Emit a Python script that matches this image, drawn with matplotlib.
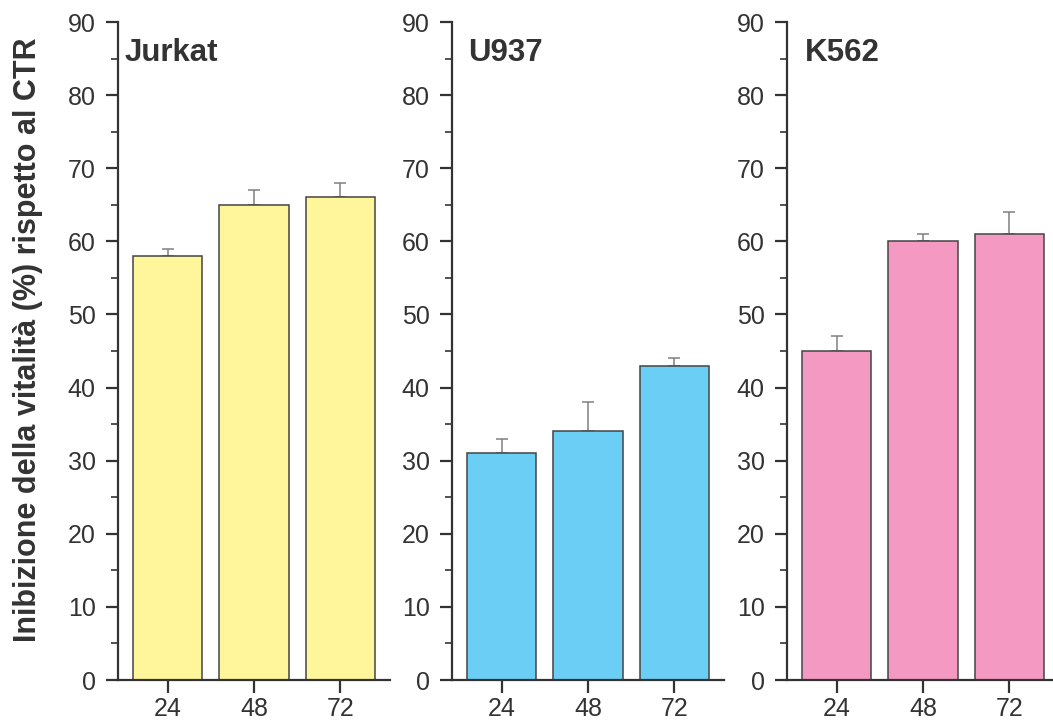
import matplotlib
matplotlib.use("Agg")
import matplotlib.pyplot as plt
from matplotlib.ticker import MultipleLocator

plt.rcParams["font.family"] = ["Liberation Sans", "DejaVu Sans"]

# data
cell_lines = ["Jurkat", "U937", "K562"]
hours = ["24", "48", "72"]
jurkat_vals = [58, 65, 66]
jurkat_err = [1, 2, 2]
u937_vals = [31, 34, 43]
u937_err = [2, 4, 1]
k562_vals = [45, 60, 61]
k562_err = [2, 1, 3]
bar_colors = ["#FFF59B", "#6BCEF5", "#F49AC2"]

values = [jurkat_vals, u937_vals, k562_vals]
errors = [jurkat_err, u937_err, k562_err]

TEXT = "#333333"
W, H = 1053, 724
fig = plt.figure(figsize=(W / 100, H / 100), dpi=100)

lefts = [118, 452, 787]
title_x = [0.025, 0.06, 0.065]
for i, name in enumerate(cell_lines):
    ax = fig.add_axes([lefts[i] / W, 44 / H, 272 / W, 658 / H])
    x = range(len(hours))
    ax.bar(x, values[i], width=0.8, color=bar_colors[i], edgecolor="#444444", linewidth=1.1, zorder=2)
    ax.errorbar(x, values[i], yerr=[[0] * 3, errors[i]], fmt="none", ecolor="#808080",
                elinewidth=1.1, capsize=4.6, capthick=1.1, zorder=1)
    ax.set_xlim(-0.575, 2.575)
    ax.set_ylim(0, 90)
    ax.set_xticks(list(x))
    ax.set_xticklabels(hours)
    ax.yaxis.set_major_locator(MultipleLocator(10))
    ax.yaxis.set_minor_locator(MultipleLocator(5))
    for s in ["top", "right"]:
        ax.spines[s].set_visible(False)
    for s in ["left", "bottom"]:
        ax.spines[s].set_linewidth(1.6)
        ax.spines[s].set_color(TEXT)
    ax.tick_params(axis="both", which="major", direction="out", length=9, width=1.6,
                   color=TEXT, labelcolor=TEXT, labelsize=18)
    ax.tick_params(axis="x", which="major", pad=3)
    ax.tick_params(axis="y", which="major", pad=7)
    ax.tick_params(axis="y", which="minor", direction="out", length=5, width=1.2, color=TEXT)
    ax.text(title_x[i], 0.975, name, transform=ax.transAxes, ha="left", va="top",
            fontsize=22.5, fontweight="bold", color=TEXT)

fig.text(28 / W, 1 - 340 / H, "Inibizione della vitalità (%) rispetto al CTR", rotation=90,
         ha="center", va="center", fontsize=22, fontweight="bold", color=TEXT)

fig.savefig("out.png", dpi=100)
